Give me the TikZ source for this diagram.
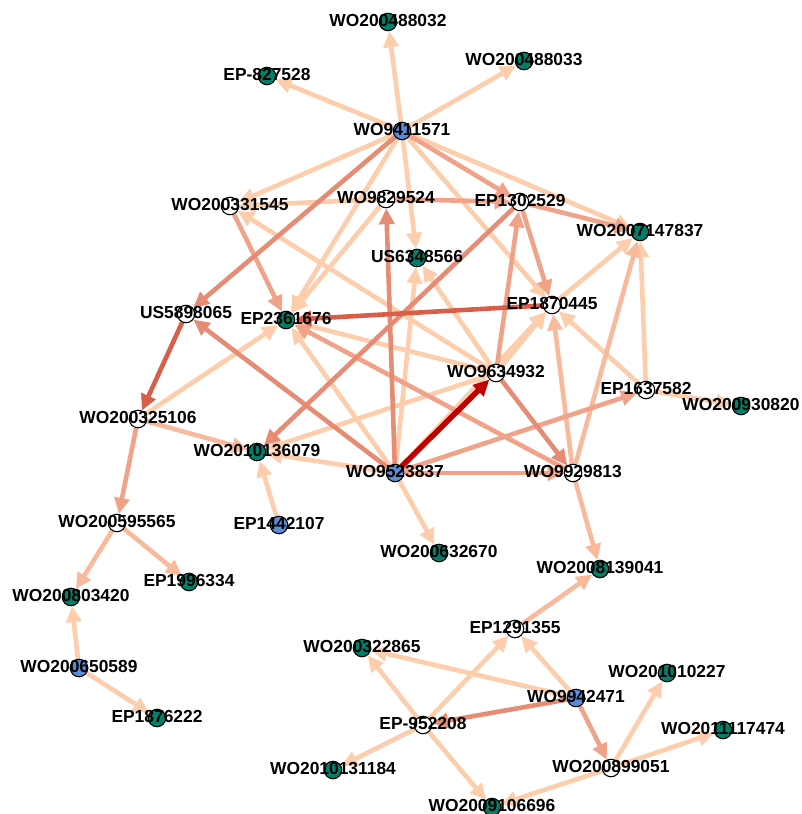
\documentclass[tikz,border=0pt]{standalone}
\usepackage{fontspec}
\setmainfont{Liberation Sans}
\usetikzlibrary{arrows.meta}

\definecolor{sinkfill}{RGB}{0,128,106}
\definecolor{srcfill}{RGB}{92,140,214}
\definecolor{wA}{RGB}{253,205,172}
\definecolor{wB}{RGB}{248,186,154}
\definecolor{wC}{RGB}{240,163,136}
\definecolor{wD}{RGB}{231,140,116}
\definecolor{wE}{RGB}{217,94,74}
\definecolor{wF}{RGB}{192,0,0}

\pgfdeclarelayer{backlayer}
\pgfdeclarelayer{edgelayer}
\pgfsetlayers{backlayer,edgelayer,main}

\begin{document}
\begin{tikzpicture}[x=1pt,y=-1pt,
  pnode/.style={circle,draw=black,line width=1.1pt,minimum size=17.5pt,inner sep=0pt},
  sink/.style={pnode,fill=sinkfill},
  src/.style={pnode,fill=srcfill},
  relay/.style={pnode,fill=white},
  lbl/.style={font=\fontsize{17.4}{20}\selectfont\bfseries,inner sep=0pt,anchor=base,yshift=-4.5pt},
  link/.style={line width=4.6pt,-{Triangle[length=16pt,width=15pt]}},
]
\begin{pgfonlayer}{backlayer}
\fill[white] (0,0) rectangle (802,814);
\end{pgfonlayer}
\useasboundingbox (0,0) rectangle (802,814);

% patent nodes: name / x / y / kind
\foreach \n/\x/\y/\k in {
  WO200488032/388/22/sink, EP-827528/267/76/sink, WO9411571/402/131/src,
  WO200488033/524/61/sink, EP1302529/520/202/relay, WO2007147837/640/232/sink,
  WO9829524/386/199/relay, WO200331545/230/206/relay, US6348566/417/258/sink,
  US5898065/186/314/relay, EP2361676/286/320/sink, EP1870445/552/305/relay,
  WO9634932/496/373/relay, EP1637582/646/390/relay, WO200930820/741/406/sink,
  WO200325106/138/419/relay, WO2010136079/257/452/sink, WO9523837/395/473/src,
  WO9929813/573/473/relay, WO200595565/117/523/relay, EP1442107/279/525/src,
  WO200632670/439/553/sink, WO2008139041/600/569/sink, EP1996334/189/582/sink,
  WO200803420/71/597/sink, EP1291355/515/629/relay, WO200322865/362/648/sink,
  WO201010227/667/673/sink, WO200650589/79/668/src, WO9942471/576/698/src,
  EP1876222/157/718/sink, EP-952208/423/725/relay, WO2011117474/723/730/sink,
  WO200899051/611/768/relay, WO2010131184/333/770/sink, WO2009106696/492/807/sink}
  \node[\k] (\n) at (\x,\y) {};

\begin{pgfonlayer}{edgelayer}
% citations, lightest first
\foreach \a/\b in {
  WO9411571/WO200488032, WO9411571/EP-827528, WO9411571/WO200488033,
  WO9411571/WO200331545, WO9411571/EP2361676, WO9411571/US6348566,
  WO9411571/EP1870445, WO9411571/WO2007147837,
  WO9829524/WO200331545, WO9829524/EP2361676,
  WO9523837/EP2361676, WO9523837/US6348566, WO9523837/WO2010136079,
  WO9523837/WO200632670, WO9523837/EP1870445,
  EP1870445/WO2007147837, WO200325106/EP2361676,
  WO9634932/WO200331545, WO9634932/EP2361676, WO9634932/US6348566,
  WO9634932/EP1870445, WO9634932/WO2010136079,
  EP1637582/WO200930820, EP1637582/EP1870445, EP1637582/WO2007147837,
  EP1442107/WO2010136079, WO200650589/WO200803420, WO200650589/EP1876222,
  WO9942471/EP1291355, WO9942471/WO200322865,
  EP-952208/EP1291355, EP-952208/WO200322865, EP-952208/WO2010131184,
  EP-952208/WO2009106696,
  WO200899051/WO201010227, WO200899051/WO2011117474, WO200899051/WO2009106696}
  \draw[link,draw=wA,fill=wA] (\a) -- (\b);
\foreach \a/\b in {
  WO200325106/WO2010136079, WO9929813/EP1870445, WO9929813/WO2007147837,
  WO9929813/WO2008139041, WO200595565/WO200803420, WO200595565/EP1996334,
  EP1291355/WO2008139041}
  \draw[link,draw=wB,fill=wB] (\a) -- (\b);
\foreach \a/\b in {
  WO9411571/EP1302529, WO9829524/EP1302529, WO9523837/WO9929813,
  WO9523837/EP1637582, WO200331545/EP2361676, WO200325106/WO200595565,
  WO9634932/EP1302529, EP1302529/EP1870445, EP1302529/WO2007147837,
  WO9929813/EP2361676, WO9942471/WO200899051}
  \draw[link,draw=wC,fill=wC] (\a) -- (\b);
\foreach \a/\b in {
  WO9411571/US5898065, WO9523837/WO9829524, WO9523837/US5898065,
  WO9634932/WO9929813, EP1302529/WO2010136079, WO9942471/EP-952208}
  \draw[link,draw=wD,fill=wD] (\a) -- (\b);
\foreach \a/\b in {US5898065/WO200325106, EP1870445/EP2361676}
  \draw[link,draw=wE,fill=wE] (\a) -- (\b);
\draw[link,line width=5.5pt,draw=wF,fill=wF] (WO9523837) -- (WO9634932);
\end{pgfonlayer}

% labels on top
\foreach \n in {
  WO200488032, EP-827528, WO9411571, WO200488033, EP1302529, WO2007147837,
  WO9829524, WO200331545, US6348566, US5898065, EP2361676, EP1870445,
  WO9634932, EP1637582, WO200930820, WO200325106, WO2010136079, WO9523837,
  WO9929813, WO200595565, EP1442107, WO200632670, WO2008139041, EP1996334,
  WO200803420, EP1291355, WO200322865, WO201010227, WO200650589, WO9942471,
  EP1876222, EP-952208, WO2011117474, WO200899051, WO2010131184, WO2009106696}
  \node[lbl] (L\n) at (\n.center) {\n};
\end{tikzpicture}
\end{document}
